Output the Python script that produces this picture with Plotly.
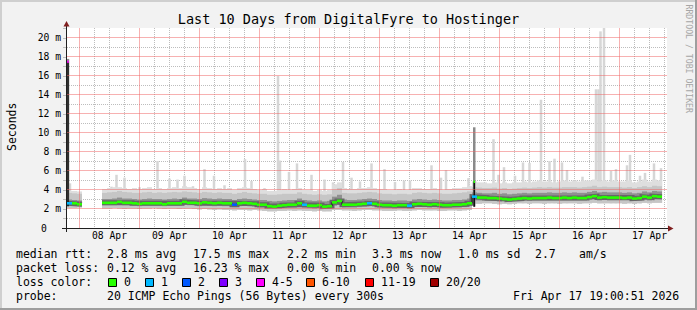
import pandas as pd
import plotly.graph_objects as go

N = None
START = pd.Timestamp("2026-04-07 19:00:00")
SPAN_H = 240
STEP_H = 2

# ---------------- data (milliseconds, one value per 2-hour step) ----------------
med = [
    2.6, 2.6, 2.5, N, N, N, N, 2.65, 2.65, 2.65, 2.75, 2.65,
    2.65, 2.6, 2.55, 2.6, 2.6, 2.6, 2.6, 2.5, 2.6, 2.6, 2.6, 2.75,
    2.65, 2.65, 2.6, 2.7, 2.65, 2.6, 2.65, 2.6, 2.6, 2.45, 2.6, 2.65,
    2.6, 2.55, 2.45, 2.45, 2.3, 2.25, 2.35, 2.4, 2.45, 2.45, 2.6, 2.45,
    2.35, 2.35, 2.4, 2.25, 2.3, 2.7, 2.85, 2.45, 2.45, 2.45, 2.5, 2.55,
    2.6, 2.55, 2.45, 2.4, 2.4, 2.35, 2.4, 2.4, 2.35, 2.5, 2.55, 2.5,
    2.45, 2.5, 2.45, 2.4, 2.4, 2.45, 2.45, 2.5, 2.6, 3.3, 3.2, 3.2,
    3.15, 3.15, 3.1, 3.05, 3.0, 3.05, 3.1, 3.15, 3.1, 3.15, 3.15, 3.15,
    3.2, 3.15, 3.15, 3.2, 3.15, 3.2, 3.15, 3.15, 3.25, 3.35, 3.2, 3.25,
    3.2, 3.2, 3.2, 3.15, 3.2, 3.1, 3.15, 3.3, 3.2, 3.35, 3.3, N,
]
loss = [
    1, 0, 0, N, N, N, N, 0, 0, 0, 0, 0,
    0, 0, 0, 0, 0, 0, 0, 0, 0, 0, 0, 0,
    0, 0, 0, 0, 0, 0, 0, 0, 0, 2, 0, 0,
    0, 0, 0, 0, 0, 0, 0, 0, 0, 0, 0, 1,
    0, 0, 0, 0, 0, 0, 0, 0, 0, 0, 0, 0,
    1, 0, 0, 0, 0, 0, 0, 0, 1, 0, 0, 0,
    0, 0, 0, 0, 0, 0, 0, 0, 0, 1, 0, 0,
    0, 0, 0, 0, 0, 0, 0, 0, 0, 0, 0, 0,
    0, 0, 0, 0, 0, 0, 0, 0, 0, 0, 0, 0,
    0, 0, 0, 0, 0, 0, 0, 0, 0, 0, 0, N,
]
lo = [
    2.1, 2.1, 2.15, N, N, N, N, 2.05, 2.05, 2.1, 2.05, 2.0,
    2.05, 2.05, 2.0, 2.05, 2.05, 2.1, 2.05, 2.0, 2.05, 2.05, 2.0, 2.05,
    2.05, 2.0, 1.95, 2.0, 1.95, 1.9, 1.95, 1.9, 1.9, 1.85, 1.9, 1.9,
    1.85, 1.9, 1.85, 1.8, 1.75, 1.75, 1.8, 1.8, 1.85, 1.8, 1.85, 1.8,
    1.8, 1.75, 1.8, 1.75, 1.75, 1.9, 1.9, 1.85, 1.85, 1.8, 1.85, 1.9,
    1.9, 1.85, 1.85, 1.8, 1.8, 1.8, 1.85, 1.8, 1.8, 1.85, 1.9, 1.85,
    1.85, 1.85, 1.8, 1.8, 1.85, 1.85, 1.8, 1.85, 1.9, 2.55, 2.55, 2.6,
    2.6, 2.55, 2.5, 2.55, 2.5, 2.55, 2.6, 2.6, 2.55, 2.6, 2.6, 2.55,
    2.6, 2.6, 2.55, 2.6, 2.6, 2.6, 2.55, 2.6, 2.6, 2.65, 2.6, 2.6,
    2.6, 2.6, 2.6, 2.55, 2.6, 2.55, 2.6, 2.65, 2.6, 2.65, 2.65, N,
]
core_lo = [
    2.35, 2.35, 2.3, N, N, N, N, 2.4, 2.4, 2.4, 2.45, 2.4,
    2.4, 2.35, 2.3, 2.35, 2.35, 2.35, 2.35, 2.3, 2.35, 2.35, 2.35, 2.45,
    2.4, 2.4, 2.3, 2.4, 2.35, 2.3, 2.35, 2.3, 2.3, 2.2, 2.3, 2.35,
    2.3, 2.25, 2.15, 2.15, 2.05, 2.0, 2.05, 2.1, 2.15, 2.15, 2.25, 2.15,
    2.1, 2.05, 2.1, 2.0, 2.05, 2.35, 2.45, 2.15, 2.15, 2.15, 2.2, 2.25,
    2.3, 2.25, 2.15, 2.1, 2.1, 2.05, 2.1, 2.1, 2.05, 2.2, 2.25, 2.2,
    2.15, 2.2, 2.15, 2.1, 2.1, 2.15, 2.15, 2.2, 2.3, 2.9, 2.9, 2.85,
    2.85, 2.85, 2.8, 2.85, 2.75, 2.85, 2.85, 2.9, 2.85, 2.9, 2.9, 2.9,
    2.9, 2.9, 2.9, 2.9, 2.9, 2.9, 2.9, 2.9, 2.95, 3.0, 2.9, 2.95,
    2.9, 2.9, 2.9, 2.9, 2.9, 2.85, 2.9, 3.0, 2.9, 3.0, 3.0, N,
]
core_hi = [
    3.0, 2.95, 2.9, N, N, N, N, 3.05, 3.05, 3.1, 3.2, 3.1,
    3.1, 3.05, 3.0, 3.05, 3.1, 3.05, 3.05, 3.0, 3.05, 3.1, 3.05, 3.2,
    3.1, 3.1, 3.05, 3.15, 3.1, 3.05, 3.1, 3.05, 3.05, 2.95, 3.05, 3.1,
    3.05, 3.0, 2.95, 2.95, 2.85, 2.8, 2.85, 2.9, 2.95, 2.95, 3.1, 2.95,
    2.9, 2.85, 2.9, 2.8, 2.85, 3.3, 3.5, 3.0, 2.95, 2.95, 3.0, 3.05,
    3.1, 3.05, 2.95, 2.9, 2.9, 2.85, 2.9, 2.9, 2.85, 3.0, 3.05, 3.0,
    2.95, 3.0, 2.95, 2.9, 2.9, 2.95, 2.95, 3.0, 3.1, 3.75, 3.7, 3.65,
    3.65, 3.7, 3.6, 3.65, 3.55, 3.6, 3.65, 3.7, 3.65, 3.7, 3.7, 3.7,
    3.75, 3.7, 3.7, 3.75, 3.7, 3.75, 3.7, 3.7, 3.8, 3.9, 3.75, 3.8,
    3.75, 3.75, 3.75, 3.7, 3.75, 3.65, 3.7, 3.85, 3.75, 3.9, 3.85, N,
]
hi = [
    3.7, 3.65, 3.6, N, N, N, N, 3.7, 3.75, 3.8, 3.9, 3.8,
    3.75, 3.7, 3.7, 3.75, 3.8, 3.7, 3.75, 3.7, 3.75, 3.8, 3.75, 3.85,
    3.8, 3.75, 3.7, 3.8, 3.75, 3.7, 3.75, 3.7, 3.7, 3.6, 3.7, 3.8,
    3.7, 3.65, 3.6, 3.6, 3.5, 3.5, 3.55, 3.6, 3.6, 3.6, 3.75, 3.6,
    3.55, 3.5, 3.55, 3.5, 3.55, 4.0, 4.2, 3.7, 3.65, 3.65, 3.7, 3.75,
    3.8, 3.75, 3.65, 3.6, 3.6, 3.55, 3.6, 3.6, 3.55, 3.7, 3.75, 3.7,
    3.65, 3.7, 3.65, 3.6, 3.6, 3.65, 3.7, 3.75, 3.85, 4.3, 4.25, 4.2,
    4.2, 4.25, 4.15, 4.2, 4.1, 4.15, 4.2, 4.25, 4.2, 4.25, 4.3, 4.25,
    4.3, 4.25, 4.25, 4.3, 4.3, 4.3, 4.25, 4.3, 4.35, 4.45, 4.3, 4.35,
    4.3, 4.3, 4.3, 4.25, 4.3, 4.2, 4.3, 4.4, 4.3, 4.45, 4.4, N,
]
top = [
    3.9, 3.9, 3.85, N, N, N, N, 4.1, 4.2, 4.3, 4.3, 4.2,
    4.1, 4.2, 4.1, 4.2, 4.3, 4.1, 4.2, 4.1, 4.2, 4.3, 4.2, 4.4,
    4.3, 4.2, 4.1, 4.3, 4.2, 4.1, 4.2, 4.1, 4.2, 4.0, 4.2, 4.3,
    4.2, 4.1, 4.0, 4.1, 3.9, 3.9, 4.0, 4.1, 4.0, 4.1, 4.2, 4.0,
    4.0, 3.9, 4.0, 3.9, 4.0, 4.6, 4.8, 4.2, 4.1, 4.1, 4.2, 4.2,
    4.3, 4.2, 4.1, 4.1, 4.0, 4.0, 4.1, 4.0, 4.0, 4.2, 4.2, 4.1,
    4.1, 4.2, 4.1, 4.0, 4.1, 4.2, 4.2, 4.3, 4.4, 4.9, 4.8, 4.8,
    4.7, 4.8, 4.7, 4.8, 4.7, 4.8, 4.8, 4.9, 4.8, 4.9, 5.0, 4.9,
    4.9, 4.8, 4.9, 5.0, 4.9, 5.0, 4.9, 5.0, 5.0, 5.1, 4.9, 5.0,
    4.9, 5.0, 4.9, 4.9, 5.0, 4.8, 4.9, 5.1, 4.9, 5.1, 5.0, N,
]

# isolated slow pings (hours after start, top in ms)
spike_h = [1.2, 17.8, 19.8, 23.0, 29.0, 36.2, 41.0, 44.2, 47.0, 50.4, 55.0, 58.8,
           63.0, 71.2, 73.8, 79.0, 84.4, 85.2, 88.8, 92.0, 97.8, 103.0, 106.4,
           110.4, 113.8, 117.2, 121.8, 127.0, 131.2, 134.8, 137.2, 145.8, 149.6,
           151.6, 160.6, 170.6, 172.6, 174.8, 179.2, 182.4, 185.0, 189.6, 193.0,
           195.0, 198.0, 200.0, 206.2, 211.6, 212.6, 213.4, 214.8, 217.6, 219.6,
           224.0, 225.2, 229.2, 231.2, 234.8, 237.6]
spike_top = [4.7, 4.35, 5.6, 5.3, 4.3, 7.05, 5.2, 5.1, 5.5, 4.4, 6.2, 5.5,
             4.5, 7.25, 4.95, 4.2, 16.0, 7.1, 5.9, 6.8, 5.6, 5.1, 4.8,
             6.95, 5.3, 4.9, 6.8, 6.2, 4.85, 5.0, 5.0, 6.6, 5.3,
             6.1, 5.25, 9.35, 5.6, 6.4, 5.5, 6.9, 6.85, 13.5, 7.05,
             7.3, 6.9, 6.1, 5.4, 14.6, 14.6, 20.7, 21.5, 6.0, 6.2,
             6.6, 7.7, 5.5, 5.8, 6.8, 6.3]

# short events with a high median
event_h = [0.4, 162.9]
event_top = [17.8, 10.6]
event_lo = [2.3, 2.25]
event_med = [17.5, 4.87]
event_loss = [4, 0]

x_labels = ["08 Apr", "09 Apr", "10 Apr", "11 Apr", "12 Apr",
            "13 Apr", "14 Apr", "15 Apr", "16 Apr", "17 Apr"]
y_ticks = [0, 2, 4, 6, 8, 10, 12, 14, 16, 18, 20]

legend_bins = ["0", "1", "2", "3", "4-5", "6-10", "11-19", "20/20"]

# ---------------- style ----------------
LOSS_COLORS = ["#26ff00", "#00b8ff", "#0059ff", "#7e00ff", "#ff00ff",
               "#ff5500", "#ff0000", "#a00000"]
GRID = "#bdbdbd"
MGRID = "rgba(240,100,100,0.5)"
DASH = "1px,1px"
FONT = "DejaVu Sans Mono"

W, H = 697, 310
L, R, TP, BT = 67, 30, 28, 82
PW, PH = W - L - R, H - TP - BT
PX_PER_MS = 9.5
YMAX = PH / PX_PER_MS


def T(h):
    return START + pd.Timedelta(hours=h)


def px(x):
    return (x - L) / PW


def py(y):
    return (H - BT - y) / PH


def loss_bin(n):
    if n <= 3:
        return n
    if n <= 5:
        return 4
    if n <= 10:
        return 5
    if n <= 19:
        return 6
    return 7


def diff(a, b):
    return [None if (x is None or y is None) else round(y - x, 4) for x, y in zip(a, b)]


n = len(med)
centers = [T(STEP_H * k + STEP_H / 2) for k in range(n)]
BW = STEP_H * 3600 * 1000

fig = go.Figure()

sp_base = [lo[int(h // STEP_H)] for h in spike_h]
fig.add_bar(x=[T(h) for h in spike_h], y=diff(sp_base, spike_top), base=sp_base,
            width=3600 * 1000, marker=dict(color="#d6d6d6", line_width=0))
fig.add_bar(x=centers, y=diff(lo, top), base=lo, width=BW,
            marker=dict(color="#dedede", line_width=0))
fig.add_bar(x=centers, y=diff(lo, hi), base=lo, width=BW,
            marker=dict(color="#c6c6c6", line_width=0))
fig.add_bar(x=centers, y=diff(core_lo, core_hi), base=core_lo, width=BW,
            marker=dict(color="#909090", line_width=0))
fig.add_bar(x=[T(h) for h in event_h], y=diff(event_lo, event_top), base=event_lo,
            width=1.0 * 3600 * 1000, marker=dict(color="#8a8a8a", line_width=0))

sx, sy = [], []
prev = None
for k, v in enumerate(med):
    if v is None:
        if prev is not None:
            sx.append(None)
            sy.append(None)
        prev = None
        continue
    sx += [T(STEP_H * k), T(STEP_H * (k + 1))]
    sy += [v, v]
    prev = v
fig.add_scatter(x=sx, y=sy, mode="lines", line=dict(color="#666666", width=5),
                hoverinfo="skip")
fig.add_scatter(x=sx, y=sy, mode="lines", line=dict(color="#111111", width=1),
                hoverinfo="skip")
for ex, lo_v, m in zip(event_h, event_lo, event_med):
    fig.add_scatter(x=[T(ex), T(ex)], y=[lo_v, m], mode="lines",
                    line=dict(color="#111111", width=1.5), hoverinfo="skip")

segs = {}
for k, v in enumerate(med):
    if v is None:
        continue
    b = loss_bin(loss[k])
    xs, ys = segs.setdefault(b, ([], []))
    xs += [T(STEP_H * k), T(STEP_H * (k + 1)), None]
    ys += [v, v, None]
for ex, m, ls in zip(event_h, event_med, event_loss):
    b = loss_bin(ls)
    xs, ys = segs.setdefault(b, ([], []))
    xs += [T(ex - 0.3), T(ex + 0.3), None]
    ys += [m, m, None]
for b, (xs, ys) in sorted(segs.items()):
    fig.add_scatter(x=xs, y=ys, mode="lines", line=dict(color=LOSS_COLORS[b], width=2.6),
                    hoverinfo="skip")

midnights = [pd.Timestamp(f"2026-04-{d:02d} 00:00") for d in range(8, 18)]
six_h = [pd.Timestamp("2026-04-08 00:00") + pd.Timedelta(hours=6 * i) for i in range(40)]
six_h = [t for t in six_h if t.hour != 0]
y_labels = ["" if v == 0 else f"{v} m" for v in y_ticks]

fig.update_layout(
    width=W, height=H, margin=dict(l=L, r=R, t=TP, b=BT, pad=0),
    paper_bgcolor="#f2f2f2", plot_bgcolor="#ffffff",
    barmode="overlay", showlegend=False,
    font=dict(family=FONT, color="#000000"),
    title=dict(text="Last 10 Days from DigitalFyre to Hostinger", x=0.5, xref="container",
               xanchor="center", y=1 - 19 / H, yref="container", yanchor="middle",
               font=dict(size=13.5, family=FONT, color="#000000")),
    xaxis=dict(type="date", range=[T(0), T(SPAN_H)], tickmode="array", tickvals=midnights,
               ticktext=x_labels, ticklabelshift=30, showgrid=False,
               minor=dict(tickvals=six_h, showgrid=True, gridcolor=GRID,
                          griddash=DASH, gridwidth=1),
               showline=False, zeroline=False, ticks="", tickfont=dict(size=9.7)),
    yaxis=dict(range=[0, YMAX], tickmode="array", tickvals=y_ticks, ticktext=y_labels,
               showgrid=False,
               minor=dict(tickvals=list(range(1, 22, 2)), showgrid=True, gridcolor=GRID,
                          griddash=DASH, gridwidth=1, ticks="outside", ticklen=3,
                          tickcolor=GRID),
               zeroline=False, showline=False, ticks="outside", ticklen=3, tickcolor=GRID,
               tickfont=dict(size=9.7)),
)

shapes = []

# major (red) grid at midnights and every 2 ms
for d in midnights:
    shapes.append(dict(type="line", xref="x", yref="paper", x0=d, x1=d, y0=0, y1=1,
                       layer="above", line=dict(color=MGRID, width=1)))
for v in y_ticks[1:]:
    yv = v + 0.5 / PX_PER_MS
    shapes.append(dict(type="line", xref="paper", yref="y", x0=0, x1=1, y0=yv, y1=yv,
                       layer="above", line=dict(color=MGRID, width=1)))


def rect(x0, y0, x1, y1, fill, line=None):
    d = dict(type="rect", xref="paper", yref="paper", x0=px(x0), x1=px(x1),
             y0=py(y0), y1=py(y1), fillcolor=fill, layer="above")
    d["line"] = dict(width=1, color=line) if line else dict(width=0)
    shapes.append(d)


def seg(x0, y0, x1, y1, color, width=1):
    shapes.append(dict(type="line", xref="paper", yref="paper", x0=px(x0), x1=px(x1),
                       y0=py(y0), y1=py(y1), line=dict(color=color, width=width)))


def tri(pts, color):
    path = "M " + " L ".join(f"{px(a)},{py(b)}" for a, b in pts) + " Z"
    shapes.append(dict(type="path", xref="paper", yref="paper", path=path,
                       fillcolor=color, line=dict(width=0)))


rect(0, 0, W, 2, "#cfcfcf")
rect(0, 0, 2, H, "#cfcfcf")
rect(0, H - 2, W, H, "#9e9e9e")
rect(W - 2, 0, W, H, "#9e9e9e")
seg(62, 228.5, 669, 228.5, "#1f1f1f")
seg(66.5, 232, 66.5, 24, "#1f1f1f")
tri([(668, 225.5), (673.5, 228.5), (668, 231.5)], "#801f1f")
tri([(63.5, 26.5), (66.5, 21), (69.5, 26.5)], "#801f1f")

box_x = [108.5, 145.5, 182.5, 219.5, 256.5, 306.5, 365.5, 430.5]
for bx, c in zip(box_x, LOSS_COLORS):
    rect(bx, 278.5, bx + 8, 286.5, c, line="#000000")

ann = []


def text(t, x, y, size=11.5, xa="left", angle=0, color="#000000"):
    ann.append(dict(text=t, xref="paper", yref="paper", x=px(x), y=py(y), xanchor=xa,
                    yanchor="middle", showarrow=False, textangle=angle,
                    borderpad=0, borderwidth=0,
                    font=dict(family=FONT, size=size, color=color)))


text("0", 43.5, 228, size=9.7, xa="center")
text("median rtt:", 16, 254)
for t, x in [("2.8 ms avg", 107.3), ("17.5 ms max", 193.3), ("2.2 ms min", 286.7),
             ("3.3 ms now", 371.7), ("1.0 ms sd", 458.3), ("2.7", 535), ("am/s", 579.3)]:
    text(t, x, 254)
text("packet loss:", 16, 268)
for t, x in [("0.12 % avg", 107.3), ("16.23 % max", 193.3), ("0.00 % min", 286.7),
             ("0.00 % now", 371.7)]:
    text(t, x, 268)
text("loss color:", 16, 282)
for lab, bx in zip(legend_bins, box_x):
    text(lab, bx + 15, 282)
text("probe:", 16, 296)
text("20 ICMP Echo Pings (56 Bytes) every 300s", 107.3, 296)
text("Fri Apr 17 19:00:51 2026", 513.3, 296)
text("Seconds", 12, 127, xa="center", angle=-90)
text("RRDTOOL / TOBI OETIKER", 688.5, 59, size=8.2, xa="center", angle=90, color="#a6a6a6")

fig.update_layout(shapes=shapes, annotations=ann)
fig.write_html("out.html")
